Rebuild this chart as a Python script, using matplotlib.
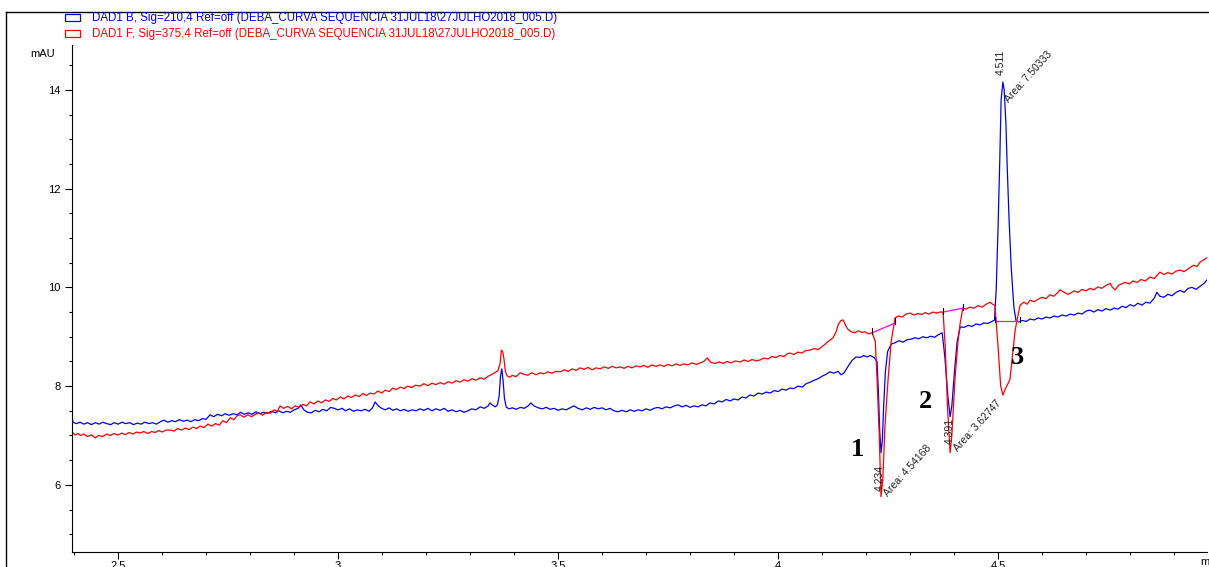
import matplotlib
matplotlib.use("Agg")
import matplotlib.pyplot as plt
from matplotlib.lines import Line2D
from matplotlib.patches import Rectangle
from matplotlib.ticker import MultipleLocator

plt.rcParams['font.family'] = ['Liberation Sans', 'DejaVu Sans']

# DAD1 B, 210 nm (blue)
blue_t = [2.395, 2.397, 2.405, 2.413, 2.422, 2.430, 2.439, 2.448, 2.457, 2.465, 2.474, 2.483, 2.491, 2.500,
          2.509, 2.517, 2.526, 2.535, 2.543, 2.552, 2.561, 2.570, 2.578, 2.587, 2.596, 2.604, 2.613, 2.622,
          2.630, 2.639, 2.648, 2.657, 2.665, 2.674, 2.683, 2.691, 2.700, 2.709, 2.717, 2.726, 2.735, 2.743,
          2.752, 2.761, 2.770, 2.778, 2.787, 2.796, 2.804, 2.813, 2.822, 2.830, 2.839, 2.848, 2.857, 2.865,
          2.874, 2.883, 2.891, 2.900, 2.909, 2.915, 2.922, 2.930, 2.939, 2.948, 2.957, 2.965, 2.974, 2.983,
          2.991, 3.000, 3.009, 3.017, 3.026, 3.035, 3.043, 3.052, 3.061, 3.070, 3.078, 3.084, 3.091, 3.099,
          3.107, 3.116, 3.124, 3.133, 3.141, 3.150, 3.159, 3.168, 3.177, 3.186, 3.195, 3.204, 3.213, 3.222,
          3.232, 3.241, 3.250, 3.259, 3.268, 3.277, 3.286, 3.295, 3.304, 3.313, 3.323, 3.332, 3.341, 3.345,
          3.350, 3.357, 3.362, 3.366, 3.369, 3.372, 3.375, 3.378, 3.382, 3.388, 3.396, 3.405, 3.414, 3.423,
          3.432, 3.438, 3.445, 3.455, 3.464, 3.473, 3.482, 3.491, 3.500, 3.509, 3.518, 3.527, 3.536, 3.545,
          3.555, 3.564, 3.573, 3.582, 3.591, 3.600, 3.609, 3.618, 3.627, 3.636, 3.645, 3.655, 3.664, 3.673,
          3.682, 3.691, 3.700, 3.709, 3.718, 3.727, 3.736, 3.745, 3.755, 3.764, 3.773, 3.782, 3.791, 3.800,
          3.809, 3.818, 3.827, 3.836, 3.845, 3.855, 3.864, 3.873, 3.882, 3.891, 3.900, 3.909, 3.918, 3.927,
          3.936, 3.945, 3.955, 3.964, 3.973, 3.982, 3.991, 4.000, 4.009, 4.018, 4.027, 4.036, 4.045, 4.055,
          4.064, 4.073, 4.082, 4.091, 4.100, 4.109, 4.118, 4.127, 4.136, 4.143, 4.150, 4.159, 4.168, 4.177,
          4.186, 4.195, 4.202, 4.210, 4.218, 4.225, 4.228, 4.231, 4.234, 4.237, 4.240, 4.244, 4.249, 4.257,
          4.266, 4.275, 4.284, 4.293, 4.302, 4.311, 4.320, 4.329, 4.338, 4.347, 4.356, 4.364, 4.373, 4.379,
          4.386, 4.391, 4.395, 4.401, 4.407, 4.414, 4.423, 4.432, 4.441, 4.450, 4.459, 4.468, 4.477, 4.486,
          4.492, 4.496, 4.500, 4.504, 4.507, 4.511, 4.514, 4.518, 4.521, 4.525, 4.530, 4.536, 4.541, 4.548,
          4.555, 4.564, 4.573, 4.582, 4.591, 4.600, 4.609, 4.618, 4.627, 4.636, 4.645, 4.655, 4.664, 4.673,
          4.682, 4.691, 4.700, 4.709, 4.718, 4.727, 4.736, 4.745, 4.755, 4.764, 4.773, 4.782, 4.791, 4.800,
          4.809, 4.818, 4.827, 4.836, 4.845, 4.855, 4.861, 4.868, 4.877, 4.886, 4.895, 4.905, 4.914, 4.923,
          4.932, 4.941, 4.950, 4.959, 4.968, 4.975]
blue_y = [7.45, 7.27, 7.24, 7.27, 7.23, 7.26, 7.22, 7.26, 7.23, 7.27, 7.24, 7.22, 7.26, 7.23,
          7.27, 7.24, 7.26, 7.22, 7.25, 7.23, 7.27, 7.24, 7.26, 7.23, 7.28, 7.31, 7.27, 7.30,
          7.28, 7.32, 7.29, 7.31, 7.28, 7.32, 7.30, 7.34, 7.33, 7.42, 7.38, 7.43, 7.40, 7.44,
          7.41, 7.44, 7.42, 7.47, 7.43, 7.46, 7.43, 7.48, 7.44, 7.47, 7.45, 7.49, 7.46, 7.50,
          7.46, 7.49, 7.47, 7.52, 7.55, 7.62, 7.52, 7.47, 7.46, 7.51, 7.48, 7.53, 7.50, 7.57,
          7.55, 7.52, 7.55, 7.50, 7.54, 7.49, 7.52, 7.50, 7.53, 7.49, 7.56, 7.68, 7.60, 7.55,
          7.52, 7.56, 7.51, 7.54, 7.50, 7.53, 7.49, 7.52, 7.50, 7.54, 7.51, 7.55, 7.50, 7.54,
          7.51, 7.55, 7.49, 7.52, 7.48, 7.51, 7.47, 7.50, 7.54, 7.52, 7.58, 7.55, 7.60, 7.66,
          7.62, 7.58, 7.62, 7.80, 8.20, 8.35, 8.10, 7.75, 7.58, 7.54, 7.56, 7.53, 7.57, 7.55,
          7.60, 7.66, 7.60, 7.56, 7.54, 7.57, 7.53, 7.55, 7.51, 7.54, 7.52, 7.56, 7.60, 7.55,
          7.52, 7.56, 7.53, 7.57, 7.54, 7.56, 7.52, 7.55, 7.50, 7.48, 7.51, 7.48, 7.52, 7.49,
          7.52, 7.50, 7.54, 7.51, 7.55, 7.57, 7.54, 7.58, 7.56, 7.60, 7.62, 7.58, 7.61, 7.57,
          7.60, 7.58, 7.62, 7.60, 7.66, 7.64, 7.70, 7.68, 7.73, 7.70, 7.74, 7.72, 7.78, 7.76,
          7.82, 7.80, 7.86, 7.84, 7.88, 7.86, 7.91, 7.89, 7.94, 7.92, 7.96, 7.95, 8.00, 7.98,
          8.05, 8.08, 8.12, 8.15, 8.20, 8.24, 8.29, 8.26, 8.30, 8.23, 8.27, 8.40, 8.52, 8.59,
          8.58, 8.62, 8.59, 8.62, 8.58, 8.50, 7.90, 7.10, 6.65, 6.90, 7.60, 8.30, 8.70, 8.85,
          8.88, 8.92, 8.89, 8.94, 8.95, 8.98, 8.96, 9.00, 8.98, 9.01, 8.99, 9.04, 9.08, 8.60,
          7.80, 7.38, 7.60, 8.30, 8.90, 9.20, 9.19, 9.23, 9.21, 9.26, 9.24, 9.28, 9.27, 9.31,
          9.34, 10.00, 11.20, 12.60, 13.80, 14.16, 14.00, 13.30, 12.40, 11.40, 10.40, 9.60, 9.32, 9.30,
          9.33, 9.31, 9.36, 9.34, 9.38, 9.36, 9.40, 9.38, 9.42, 9.40, 9.44, 9.42, 9.46, 9.44,
          9.48, 9.46, 9.52, 9.54, 9.50, 9.55, 9.52, 9.57, 9.54, 9.58, 9.56, 9.62, 9.59, 9.65,
          9.62, 9.68, 9.64, 9.70, 9.68, 9.78, 9.90, 9.82, 9.80, 9.86, 9.83, 9.90, 9.94, 9.90,
          9.98, 10.00, 9.96, 10.02, 10.08, 10.15]

# DAD1 F, 375 nm (red)
red_t = [2.395, 2.402, 2.409, 2.414, 2.422, 2.430, 2.440, 2.448, 2.455, 2.465, 2.474, 2.482, 2.490, 2.500,
         2.508, 2.516, 2.525, 2.534, 2.542, 2.550, 2.558, 2.567, 2.576, 2.584, 2.592, 2.600, 2.609, 2.618,
         2.627, 2.635, 2.644, 2.652, 2.661, 2.670, 2.678, 2.686, 2.695, 2.704, 2.712, 2.721, 2.730, 2.738,
         2.746, 2.755, 2.763, 2.770, 2.777, 2.786, 2.795, 2.803, 2.811, 2.820, 2.828, 2.837, 2.846, 2.854,
         2.862, 2.868, 2.876, 2.885, 2.894, 2.902, 2.911, 2.920, 2.928, 2.936, 2.945, 2.954, 2.962, 2.971,
         2.980, 2.988, 2.996, 3.005, 3.013, 3.022, 3.030, 3.039, 3.048, 3.056, 3.064, 3.073, 3.082, 3.090,
         3.099, 3.107, 3.116, 3.124, 3.132, 3.141, 3.150, 3.158, 3.167, 3.176, 3.186, 3.195, 3.204, 3.213,
         3.222, 3.232, 3.241, 3.250, 3.259, 3.268, 3.277, 3.286, 3.295, 3.304, 3.313, 3.323, 3.332, 3.341,
         3.350, 3.357, 3.363, 3.368, 3.371, 3.374, 3.377, 3.380, 3.384, 3.390, 3.396, 3.404, 3.414, 3.422,
         3.431, 3.440, 3.450, 3.459, 3.468, 3.477, 3.486, 3.495, 3.505, 3.514, 3.523, 3.532, 3.541, 3.550,
         3.559, 3.568, 3.577, 3.586, 3.596, 3.605, 3.614, 3.623, 3.632, 3.641, 3.650, 3.659, 3.668, 3.677,
         3.686, 3.695, 3.704, 3.713, 3.722, 3.732, 3.741, 3.750, 3.759, 3.768, 3.777, 3.786, 3.795, 3.804,
         3.814, 3.823, 3.831, 3.839, 3.847, 3.857, 3.866, 3.875, 3.884, 3.893, 3.903, 3.914, 3.923, 3.932,
         3.941, 3.950, 3.959, 3.968, 3.977, 3.986, 3.995, 4.004, 4.013, 4.022, 4.027, 4.036, 4.045, 4.054,
         4.063, 4.073, 4.082, 4.091, 4.100, 4.107, 4.113, 4.118, 4.125, 4.132, 4.137, 4.143, 4.148, 4.154,
         4.159, 4.166, 4.175, 4.182, 4.190, 4.198, 4.205, 4.214, 4.221, 4.225, 4.230, 4.234, 4.238, 4.243,
         4.250, 4.257, 4.266, 4.273, 4.282, 4.291, 4.300, 4.309, 4.318, 4.327, 4.334, 4.343, 4.352, 4.361,
         4.368, 4.375, 4.380, 4.385, 4.391, 4.395, 4.402, 4.409, 4.414, 4.420, 4.427, 4.436, 4.445, 4.455,
         4.464, 4.473, 4.482, 4.489, 4.493, 4.500, 4.506, 4.511, 4.517, 4.527, 4.539, 4.550, 4.559, 4.566,
         4.573, 4.582, 4.591, 4.600, 4.609, 4.618, 4.627, 4.636, 4.641, 4.650, 4.659, 4.664, 4.673, 4.682,
         4.691, 4.700, 4.709, 4.718, 4.727, 4.736, 4.745, 4.755, 4.760, 4.766, 4.775, 4.789, 4.798, 4.807,
         4.816, 4.825, 4.834, 4.846, 4.855, 4.868, 4.877, 4.886, 4.895, 4.905, 4.914, 4.923, 4.936, 4.945,
         4.952, 4.959, 4.966, 4.975]
red_y = [7.07, 7.01, 7.04, 7.00, 7.03, 6.98, 7.01, 6.95, 7.00, 6.98, 7.03, 7.00, 7.04, 7.01,
         7.05, 7.02, 7.06, 7.03, 7.07, 7.05, 7.08, 7.04, 7.08, 7.06, 7.10, 7.07, 7.11, 7.11,
         7.09, 7.14, 7.11, 7.15, 7.12, 7.17, 7.14, 7.19, 7.16, 7.23, 7.19, 7.24, 7.21, 7.30,
         7.26, 7.36, 7.32, 7.40, 7.42, 7.37, 7.42, 7.38, 7.43, 7.46, 7.41, 7.47, 7.45, 7.52,
         7.49, 7.60, 7.55, 7.59, 7.54, 7.60, 7.57, 7.63, 7.60, 7.68, 7.64, 7.70, 7.66, 7.72,
         7.69, 7.75, 7.72, 7.78, 7.74, 7.80, 7.77, 7.82, 7.79, 7.85, 7.81, 7.86, 7.84, 7.90,
         7.86, 7.92, 7.89, 7.96, 7.93, 7.98, 7.95, 8.00, 7.97, 8.02, 8.00, 8.05, 8.01, 8.06,
         8.03, 8.07, 8.04, 8.09, 8.06, 8.11, 8.08, 8.13, 8.10, 8.15, 8.12, 8.17, 8.14, 8.20,
         8.24, 8.28, 8.31, 8.45, 8.73, 8.70, 8.55, 8.30, 8.21, 8.18, 8.22, 8.19, 8.27, 8.24,
         8.22, 8.27, 8.23, 8.27, 8.25, 8.29, 8.26, 8.30, 8.29, 8.33, 8.30, 8.35, 8.32, 8.37,
         8.34, 8.38, 8.33, 8.37, 8.35, 8.39, 8.36, 8.40, 8.37, 8.39, 8.36, 8.40, 8.37, 8.41,
         8.39, 8.42, 8.38, 8.43, 8.40, 8.43, 8.40, 8.44, 8.41, 8.45, 8.42, 8.45, 8.43, 8.47,
         8.44, 8.47, 8.50, 8.57, 8.48, 8.46, 8.49, 8.46, 8.50, 8.47, 8.51, 8.49, 8.53, 8.50,
         8.54, 8.51, 8.53, 8.57, 8.55, 8.60, 8.58, 8.62, 8.60, 8.66, 8.67, 8.64, 8.69, 8.67,
         8.72, 8.73, 8.76, 8.74, 8.80, 8.85, 8.90, 8.93, 8.98, 9.10, 9.25, 9.33, 9.34, 9.22,
         9.15, 9.10, 9.08, 9.12, 9.09, 9.10, 9.06, 9.08, 8.90, 8.13, 7.00, 5.76, 6.10, 7.20,
         8.13, 8.90, 9.38, 9.42, 9.40, 9.46, 9.48, 9.44, 9.47, 9.45, 9.49, 9.46, 9.50, 9.48,
         9.50, 9.50, 8.80, 7.60, 6.65, 7.00, 8.13, 8.90, 9.28, 9.58, 9.56, 9.60, 9.58, 9.63,
         9.60, 9.66, 9.70, 9.65, 9.64, 8.80, 8.00, 7.82, 7.95, 8.13, 9.14, 9.64, 9.70, 9.66,
         9.74, 9.71, 9.76, 9.80, 9.77, 9.85, 9.82, 9.90, 9.95, 9.90, 9.86, 9.88, 9.93, 9.90,
         9.96, 9.93, 9.98, 9.95, 10.01, 9.98, 10.04, 10.08, 10.00, 9.95, 10.05, 10.10, 10.07, 10.13,
         10.10, 10.16, 10.13, 10.21, 10.18, 10.31, 10.26, 10.30, 10.27, 10.33, 10.35, 10.32, 10.40, 10.45,
         10.42, 10.51, 10.55, 10.60]

# integrated peaks
peak_rt = [4.234, 4.391, 4.511]
peak_area = ["4.54168", "3.62747", "7.50333"]
peak_num = ["1", "2", "3"]
base_start = [(4.214, 9.08), (4.375, 9.50), (4.493, 9.32)]
base_end = [(4.266, 9.28), (4.420, 9.58), (4.550, 9.32)]

legend_labels = [
    r"DAD1 B, Sig=210,4 Ref=off (DEBA_CURVA SEQUENCIA 31JUL18\27JULHO2018_005.D)",
    r"DAD1 F, Sig=375,4 Ref=off (DEBA_CURVA SEQUENCIA 31JUL18\27JULHO2018_005.D)",
]
colors = ["#0000ff", "#ff0000"]

fig = plt.figure(figsize=(12.09, 5.67), dpi=100)
ax = fig.add_axes([72 / 1209, 15 / 567, 1135 / 1209, 507 / 567])

ax.plot(blue_t, blue_y, color=colors[0], lw=0.9)
ax.plot(red_t, red_y, color=colors[1], lw=0.9)

for (x0, y0), (x1, y1) in zip(base_start, base_end):
    ax.plot([x0, x1], [y0, y1], color="#ff00ff", lw=0.9)
    ax.plot([x0, x0], [y0 - 0.03, y0 + 0.09], color="black", lw=0.8)
    ax.plot([x1, x1], [y1 - 0.03, y1 + 0.09], color="black", lw=0.8)

# peak labels (retention time + area)
rt_pos = [(4.232, 5.88), (4.390, 6.82), (4.507, 14.30)]
area_pos = [(4.244, 5.80), (4.403, 6.70), (4.519, 13.78)]
for rt, area, (rx, ry), (axx, ayy) in zip(peak_rt, peak_area, rt_pos, area_pos):
    ax.text(rx, ry, f"{rt:.3f}", rotation=90, rotation_mode="anchor",
            ha="left", va="center", fontsize=7.5, color="#222222")
    ax.text(axx, ayy, f"Area: {area}", rotation=48, rotation_mode="anchor",
            ha="left", va="center", fontsize=7.5, color="#222222")

num_pos = [(4.180, 6.71), (4.334, 7.68), (4.545, 8.57)]
for n, (nx, ny) in zip(peak_num, num_pos):
    ax.text(nx, ny, n, fontsize=19, fontweight="bold", family="Liberation Serif",
            ha="center", va="center")

ax.set_xlim(2.395, 4.975)
ax.set_ylim(4.64, 14.91)
ax.xaxis.set_major_locator(MultipleLocator(0.5))
ax.xaxis.set_minor_locator(MultipleLocator(0.1))
ax.yaxis.set_major_locator(MultipleLocator(2))
ax.yaxis.set_minor_locator(MultipleLocator(0.5))
ax.xaxis.set_major_formatter(plt.FuncFormatter(lambda v, p: f"{v:g}"))
ax.tick_params(which="major", direction="out", length=5, width=0.8, labelsize=8, pad=3)
ax.tick_params(axis="x", which="major", pad=1.5)
ax.tick_params(which="minor", direction="out", length=2.5, width=0.8)
for s in ["top", "right"]:
    ax.spines[s].set_visible(False)
for s in ["left", "bottom"]:
    ax.spines[s].set_linewidth(0.8)

fig.text(55 / 1209, 1 - 54 / 567, "mAU", ha="right", va="center", fontsize=8)
fig.text(1200 / 1209, 1 - 562 / 567, "min", ha="left", va="center", fontsize=8)

# legend drawn by hand like the instrument printout
for i, (lab, c) in enumerate(zip(legend_labels, colors)):
    yc = 1 - (17.5 + 16 * i) / 567
    fig.add_artist(Rectangle((65 / 1209, yc - 3.5 / 567), 15 / 1209, 7 / 567,
                             transform=fig.transFigure, facecolor="white", edgecolor=c, lw=0.9))
    fig.text(92 / 1209, yc, lab, color=c, fontsize=8.3, ha="left", va="center")

# outer frame of the printout
fig.add_artist(Line2D([6 / 1209, 1], [1 - 12 / 567, 1 - 12 / 567], color="black", lw=1))
fig.add_artist(Line2D([6 / 1209, 6 / 1209], [0, 1 - 12 / 567], color="black", lw=1))

fig.savefig("out.png", dpi=100)
